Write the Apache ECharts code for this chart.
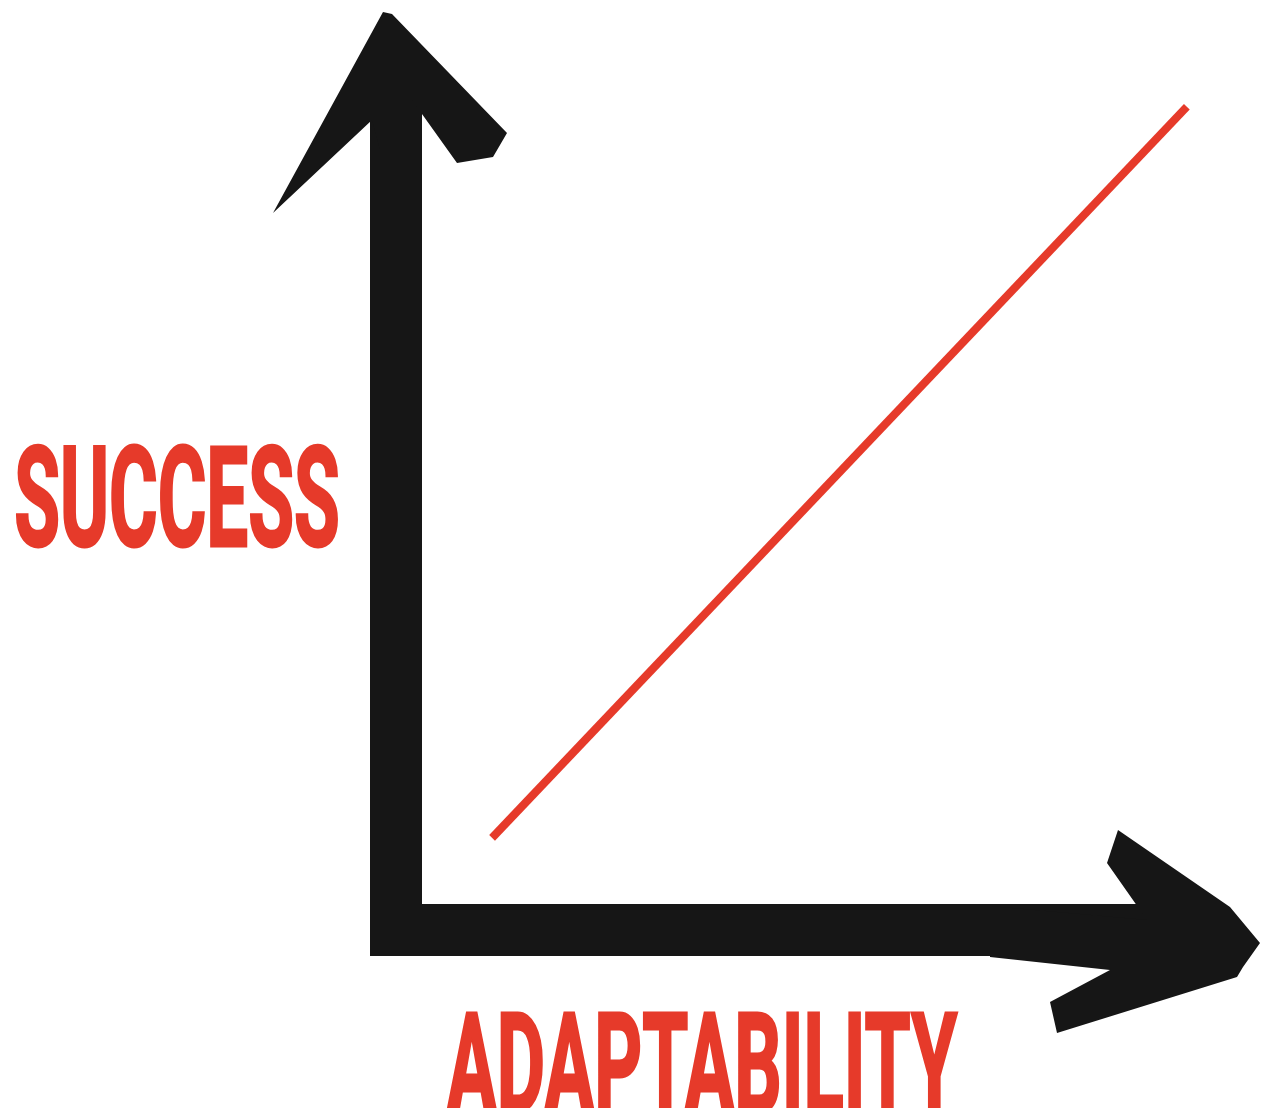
<!DOCTYPE html>
<html>
<head>
<meta charset="utf-8">
<script src="https://cdn.jsdelivr.net/npm/echarts@6/dist/echarts.min.js"></script>
<style>
  html, body { margin: 0; padding: 0; background: #fff; }
  #chart { width: 1265px; height: 1108px; }
</style>
</head>
<body>
<div id="chart"></div>
<script>
// line end points (axes go 0..100)
const adaptability = [12.1, 99.6]
const success = [11.1, 99.2]
const xName = 'ADAPTABILITY'
const yName = 'SUCCESS'

const RED = '#e63a2a'
const INK = '#161616'
const FONT = 'Roboto'
const SIZE = 140
const THICK = 3 // extra stroke, the poster letters are heavier than the font

// hand drawn chevrons, both drawn tip-up (echarts turns the x one to the right)
// the lone M point only pads the box so its centre sits on the axis line
const upArrow = 'path://M519 112 M383 12 L392 14 L507 133 L493 157 L457 163 L412 100 L412 150 L380 150 L372 120 L273 213 Z'
const rightArrow = 'path://M827 150 M943 40 L967 57 L977 63 L1033 243 L1002 250 L970 190 L957 310 L906 310 L920 153 L863 193 L830 182 L907 70 Z'

// squeeze a bold font so it looks like the condensed poster lettering
function fitScale(text, width) {
  const ctx = document.createElement('canvas').getContext('2d')
  ctx.font = 'bold ' + SIZE + 'px ' + FONT
  return width / (ctx.measureText(text).width + THICK)
}

function label(text, x, y, width) {
  return {
    type: 'text', x: x, y: y,
    scaleX: fitScale(text, width),
    style: {
      text: text, fill: RED, stroke: RED, lineWidth: THICK,
      font: 'bold ' + SIZE + 'px ' + FONT, align: 'center', verticalAlign: 'middle'
    }
  }
}

const chart = echarts.init(document.getElementById('chart'), null, {renderer: 'canvas'})

const linePoints = adaptability.map((x, i) => [x, success[i]])

chart.setOption({
  backgroundColor: '#fff',
  animation: false,
  grid: {left: 396, right: 75, top: 100, bottom: 178},
  xAxis: {
    type: 'value', min: 0, max: 100,
    axisLine: {
      show: true, onZero: false,
      symbol: ['none', rightArrow],
      symbolSize: [206, 270],
      symbolOffset: [0, -65],
      lineStyle: {color: INK, width: 52, cap: 'square'}
    },
    axisTick: {show: false}, axisLabel: {show: false}, splitLine: {show: false}
  },
  yAxis: {
    type: 'value', min: 0, max: 100,
    axisLine: {
      show: true, onZero: false,
      symbol: ['none', upArrow],
      symbolSize: [246, 201],
      symbolOffset: [0, -12.5],
      lineStyle: {color: INK, width: 52, cap: 'square'}
    },
    axisTick: {show: false}, axisLabel: {show: false}, splitLine: {show: false}
  },
  graphic: [
    label(yName, 177, 511, 327),
    label(xName, 702, 1077, 512)
  ],
  series: [
    {
      type: 'line',
      data: linePoints,
      symbol: 'none',
      clip: false,
      lineStyle: {color: RED, width: 8, cap: 'butt'}
    }
  ]
})
</script>
</body>
</html>
